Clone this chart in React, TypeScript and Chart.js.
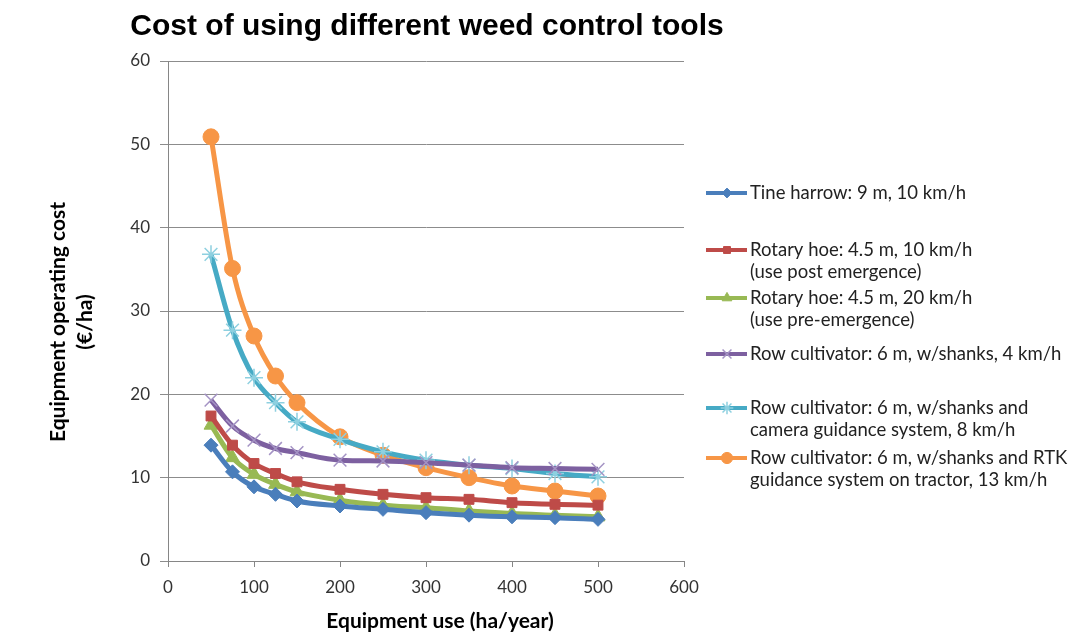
import React, { useEffect, useRef } from 'react';
import Chart from 'chart.js/auto';
import { drawPoint } from 'chart.js/helpers';

const xValues = [50, 75, 100, 125, 150, 200, 250, 300, 350, 400, 450, 500];

const tineHarrow = [13.9, 10.7, 8.9, 8.0, 7.2, 6.6, 6.2, 5.8, 5.5, 5.3, 5.2, 5.0];
const rotaryHoePost = [17.4, 13.9, 11.7, 10.5, 9.5, 8.6, 8.0, 7.6, 7.4, 7.0, 6.8, 6.7];
const rotaryHoePre = [16.3, 12.4, 10.4, 9.2, 8.3, 7.3, 6.7, 6.4, 6.0, 5.7, 5.5, 5.3];
const rowCultivator = [19.3, 16.2, 14.5, 13.5, 13.0, 12.1, 12.0, 11.8, 11.5, 11.2, 11.1, 11.0];
const rowCultivatorCamera = [36.8, 27.7, 22.0, 19.0, 16.7, 14.6, 13.1, 12.1, 11.5, 11.1, 10.5, 10.1];
const rowCultivatorRTK = [50.9, 35.1, 27.0, 22.2, 19.0, 14.9, 12.7, 11.2, 10.0, 9.0, 8.4, 7.8];

const seriesLabels: string[][] = [
  ['Tine harrow: 9 m, 10 km/h'],
  ['Rotary hoe: 4.5 m, 10 km/h', '(use post emergence)'],
  ['Rotary hoe: 4.5 m, 20 km/h', '(use pre-emergence)'],
  ['Row cultivator: 6 m, w/shanks, 4 km/h'],
  ['Row cultivator: 6 m, w/shanks and', 'camera guidance system, 8 km/h'],
  ['Row cultivator: 6 m, w/shanks and RTK', 'guidance system on tractor, 13 km/h'],
];

const xTicks = [0, 100, 200, 300, 400, 500, 600];
const yTicks = [0, 10, 20, 30, 40, 50, 60];

const titleText = 'Cost of using different weed control tools';
const xTitle = 'Equipment use (ha/year)';
const yTitle = ['Equipment operating cost', '(€/ha)'];

const colors = ['#4A7EBB', '#BE4B48', '#98B954', '#7D60A0', '#46AAC5', '#F79646'];
const markerColors = ['#4A7EBB', '#BE4B48', '#98B954', '#A493C4', '#8ED0E0', '#F79646'];
const pointStyles = ['rectRot', 'rect', 'triangle', 'crossRot', 'star', 'circle'];
const pointRadii = [7, 7, 8, 9, 9, 8];
const pointBorderWidths = [1, 1, 1, 1.5, 1.5, 1];

const legendY = [193, 250, 298, 354, 408, 458];

const FONT = 'Lato, "Open Sans", sans-serif';

const decorPlugin = {
  id: 'decor',
  afterDraw(chart: any) {
    const ctx = chart.ctx;
    ctx.save();
    // Title
    ctx.fillStyle = '#000';
    ctx.font = 'bold 30px "Liberation Sans", Arial, sans-serif';
    ctx.textAlign = 'center';
    ctx.textBaseline = 'middle';
    ctx.fillText(titleText, 427, 27);

    // X title
    ctx.font = `bold 21px ${FONT}`;
    ctx.fillText(xTitle, 440, 621);

    // Y title
    ctx.save();
    ctx.translate(72, 322);
    ctx.rotate(-Math.PI / 2);
    ctx.fillText(yTitle[0], 0, -14);
    ctx.fillText(yTitle[1], 0, 13);
    ctx.restore();

    // Legend
    ctx.textAlign = 'left';
    ctx.font = `18.5px ${FONT}`;
    chart.data.datasets.forEach((ds: any, i: number) => {
      const y = legendY[i];
      ctx.strokeStyle = colors[i];
      ctx.lineWidth = 4;
      ctx.beginPath();
      ctx.moveTo(706, y);
      ctx.lineTo(747, y);
      ctx.stroke();
      ctx.fillStyle = markerColors[i];
      ctx.strokeStyle = markerColors[i];
      ctx.lineWidth = pointBorderWidths[i];
      drawPoint(ctx, { pointStyle: pointStyles[i], radius: pointRadii[i] * 0.7, borderWidth: pointBorderWidths[i], rotation: 0 } as any, 727, y);
      ctx.fillStyle = '#222';
      seriesLabels[i].forEach((line, j) => {
        ctx.fillText(line, 750, y + j * 22);
      });
    });
    ctx.restore();
  },
};

export default function App() {
  const ref = useRef<HTMLCanvasElement>(null);
  useEffect(() => {
    if (!ref.current) return;
    const all = [tineHarrow, rotaryHoePost, rotaryHoePre, rowCultivator, rowCultivatorCamera, rowCultivatorRTK];
    const chart = new Chart(ref.current, {
      type: 'line',
      data: {
        datasets: all.map((vals, i) => ({
          label: seriesLabels[i].join(' '),
          data: xValues.map((x, k) => ({ x, y: vals[k] })),
          borderColor: colors[i],
          backgroundColor: markerColors[i],
          pointBackgroundColor: markerColors[i],
          pointBorderColor: markerColors[i],
          pointStyle: pointStyles[i] as any,
          pointRadius: pointRadii[i],
          pointBorderWidth: pointBorderWidths[i],
          borderWidth: 5,
          tension: 0.3,
          cubicInterpolationMode: 'monotone',
          fill: false,
        })),
      },
      options: {
        responsive: false,
        animation: false,
        layout: { padding: { top: 61, right: 401, left: 0, bottom: 0 } },
        plugins: { legend: { display: false }, title: { display: false }, tooltip: { enabled: false } },
        scales: {
          x: {
            type: 'linear',
            min: 0,
            max: 600,
            afterFit(scale: any) { scale.height = 76; },
            afterBuildTicks(scale: any) { scale.ticks = xTicks.map((v) => ({ value: v })); },
            grid: { drawOnChartArea: false, drawTicks: true, tickLength: 6, color: '#868686' },
            border: { display: true, color: '#868686', width: 1 },
            ticks: { font: { family: FONT, size: 17 }, color: '#333', padding: 10, maxRotation: 0 },
          },
          y: {
            type: 'linear',
            min: 0,
            max: 60,
            afterFit(scale: any) { scale.width = 168; },
            afterBuildTicks(scale: any) { scale.ticks = yTicks.map((v) => ({ value: v })); },
            grid: { color: '#8C8C8C', tickLength: 8, lineWidth: 1 },
            border: { display: true, color: '#868686', width: 1 },
            ticks: { font: { family: FONT, size: 17 }, color: '#333', padding: 10 },
          },
        },
      },
      plugins: [decorPlugin],
    });
    return () => chart.destroy();
  }, []);
  return (
    <div style={{ position: 'absolute', left: 0, top: 0, width: 1085, height: 637, background: '#fff' }}>
      <canvas ref={ref} width={1085} height={637} style={{ width: 1085, height: 637 }} />
    </div>
  );
}
